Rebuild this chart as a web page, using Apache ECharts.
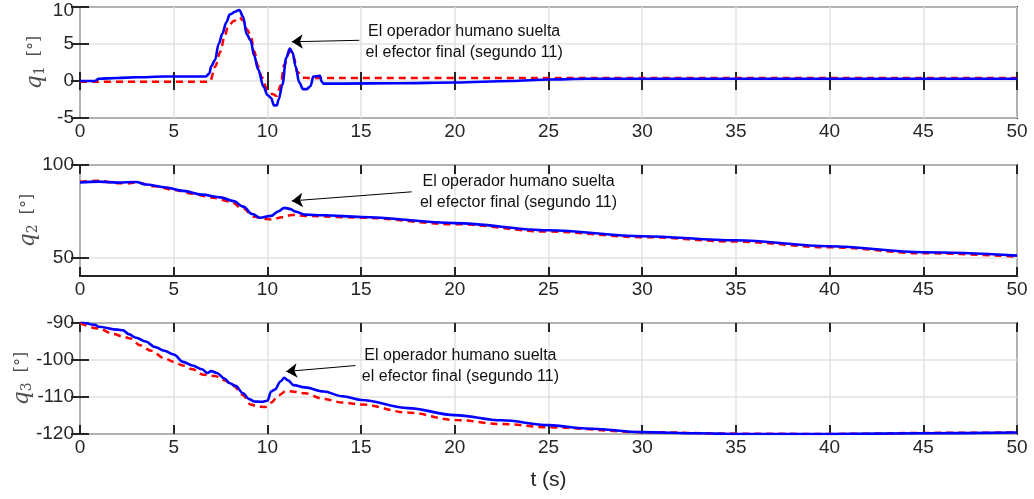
<!DOCTYPE html>
<html>
<head>
<meta charset="utf-8">
<script src="https://cdn.jsdelivr.net/npm/echarts@6/dist/echarts.min.js"></script>
<style>
  html, body { margin: 0; padding: 0; background: #fff; }
  #main { width: 1034px; height: 499px; }
</style>
</head>
<body>
<div id="main"></div>
<script>
// q1: medido (azul) y deseado (rojo)
var tQ1 = [0, 0.8, 1, 2, 3, 4.5, 6.7, 6.9, 7.0, 7.2, 7.4, 7.6, 7.8, 8.0, 8.3, 8.5, 8.7, 8.9, 9.1, 9.3, 9.5, 9.8, 10.0, 10.2, 10.35, 10.5, 10.6, 10.8, 11.0, 11.2, 11.35, 11.5, 11.7, 11.9, 12.1, 12.3, 12.45, 12.8, 12.9, 13.0, 14, 17, 20, 23, 25, 27, 30, 40, 50];
var q1 = [0, 0, 0.3, 0.4, 0.5, 0.6, 0.6, 1.0, 2.0, 2.8, 5.0, 6.4, 7.9, 9.0, 9.4, 9.6, 8.7, 6.3, 5.5, 3.4, 1.6, -0.8, -1.9, -2.3, -3.3, -3.3, -2.5, -0.5, 3.1, 4.4, 3.8, 2.0, -0.2, -1.1, -1.1, -0.7, 0.6, 0.7, -0.1, -0.35, -0.35, -0.3, -0.2, 0.0, 0.2, 0.3, 0.3, 0.3, 0.3];
var tQ1d = [0, 3, 6.8, 6.95, 7.2, 7.5, 7.7, 7.9, 8.2, 8.5, 8.7, 8.9, 9.1, 9.3, 9.5, 9.7, 10.0, 10.3, 10.5, 10.7, 10.9, 11.2, 11.4, 11.6, 11.9, 12.2, 20, 30, 50];
var q1d = [-0.1, -0.1, -0.1, 0, 1.9, 4.0, 5.9, 7.3, 8.1, 8.6, 8.2, 7.0, 6.2, 4.0, 2.0, 0.5, -1.2, -1.8, -2.0, -0.6, 2.2, 4.0, 3.2, 1.2, 0.45, 0.4, 0.4, 0.4, 0.4];

// q2
var tQ2 = [0, 1, 2, 3, 3.5, 4.5, 5.5, 6.5, 7.5, 8.2, 8.7, 9.2, 9.6, 10.2, 10.6, 10.9, 11.2, 11.5, 12, 13, 15, 20, 25, 30, 35, 40, 45, 50];
var q2 = [90.5, 91, 90.5, 90.8, 89.5, 88, 86, 84, 82.5, 80.5, 77.5, 73.5, 71.5, 72.5, 75, 76.8, 76.3, 74.8, 73.2, 72.8, 71.9, 68.6, 64.7, 61.5, 59.3, 56.1, 52.8, 51];
var tQ2d = [0, 1, 2, 2.5, 3, 4, 5, 6, 7, 8, 8.7, 9.3, 9.8, 10.2, 10.8, 11.3, 12, 14, 15, 20, 25, 30, 35, 40, 45, 50];
var q2d = [91, 91.5, 90.2, 90, 90.6, 88.5, 86.5, 84.5, 82.5, 80.3, 76.5, 72, 71, 70.5, 71.8, 73, 72.5, 71.8, 71.5, 68, 64, 61, 58.6, 55.5, 52.3, 50.5];

// q3
var tQ3 = [0, 0.8, 1, 2, 2.3, 2.6, 3, 3.5, 4, 4.5, 5, 5.5, 6, 6.5, 6.8, 7.0, 7.3, 7.7, 8.0, 8.3, 8.7, 9.0, 9.3, 9.7, 10.0, 10.2, 10.4, 10.7, 10.9, 11.1, 11.4, 12, 13, 14, 15, 17.5, 20, 22.5, 25, 27, 30, 33, 35, 40, 45, 50];
var q3 = [-89.5, -90.5, -91, -91.8, -92, -93, -94, -95, -96.5, -97.5, -98.5, -100.5, -101.5, -102.5, -103.5, -103, -103.5, -105, -106.3, -107, -109, -110.5, -111.2, -111.3, -111, -108.5, -108, -105.8, -104.8, -105.5, -106.8, -107.4, -108.5, -109.8, -110.8, -113, -114.9, -116.3, -117.6, -118.5, -119.5, -119.8, -120, -120, -119.8, -119.6];
var tQ3d = [0, 1, 1.8, 2.2, 2.7, 3.2, 3.8, 4.5, 5, 5.5, 6, 6.6, 7.2, 7.7, 8.2, 8.7, 9.1, 9.5, 9.9, 10.2, 10.6, 11.0, 11.3, 12, 13, 14, 15, 17.5, 20, 22.5, 25, 30, 35, 40, 42, 45, 50];
var q3d = [-90, -91.5, -93, -93.5, -94.2, -96, -97.5, -99.5, -100.5, -101.5, -102.5, -104, -104.3, -105.5, -107, -109.5, -112, -112.6, -112.7, -111.5, -109.5, -108.4, -108.5, -109, -110.5, -111.5, -112, -114.2, -116.2, -117.3, -118.2, -119.5, -119.9, -120, -119.9, -119.7, -119.6];

// ejes
var yMin = [-5, 40, -120];
var yMax = [10, 100, -90];
var yTicks = [[-5, 0, 5, 10], [50, 100], [-120, -110, -100, -90]];
var xTicks = [0, 5, 10, 15, 20, 25, 30, 35, 40, 45, 50];

// anotaciones: [inicio flecha], [punta], [centro del texto]
var arrowFrom = [[14.9, 5.5], [17.7, 85.5], [14.7, -101.5]];
var arrowTo = [[11.3, 5.3], [11.3, 80.6], [11.0, -103.1]];
var noteAt = [[20.5, 5.3], [23.4, 85.2], [20.3, -101.6]];
var noteText = 'El operador humano suelta\nel efector final (segundo 11)';

var gridTops = [7, 165, 323];
var gridHeight = 111;
var nameGaps = [33, 40, 46];
var INK = '#262626';
var FONT = 'Liberation Sans';

var zip = function(t, v) {
  var out = [];
  for (var i = 0; i < t.length; i++) out.push([t[i], v[i]]);
  return out;
};

var grids = [], xAxes = [], yAxes = [], series = [];

for (var i = 0; i < 3; i++) {
  grids.push({
    left: 80, right: 17, top: gridTops[i], height: gridHeight,
    outerBoundsMode: 'none', containLabel: false,
    show: true, borderColor: INK, borderWidth: 2, backgroundColor: '#fff'
  });
  var tickBase = {
    show: true, inside: true, length: 9,
    lineStyle: { color: INK, width: 2 }
  };
  // eje x inferior
  xAxes.push({
    type: 'value', gridIndex: i, min: 0, max: 50,
    axisLine: { show: false },
    axisTick: Object.assign({ customValues: xTicks }, tickBase),
    axisLabel: { customValues: xTicks, color: INK, fontFamily: FONT, fontSize: 19, margin: 4 },
    splitLine: { show: true, lineStyle: { color: '#e2e2e2', width: 1.5 } },
    name: i === 2 ? 't (s)' : '',
    nameLocation: 'middle', nameGap: 36, nameMoveOverlap: false,
    nameTextStyle: { color: INK, fontFamily: FONT, fontSize: 21 }
  });
  // eje x superior, solo marcas
  xAxes.push({
    type: 'value', gridIndex: i, min: 0, max: 50, position: 'top',
    axisLine: { show: false },
    axisTick: Object.assign({ customValues: xTicks }, tickBase),
    axisLabel: { show: false }, splitLine: { show: false }
  });
  yAxes.push({
    type: 'value', gridIndex: i, min: yMin[i], max: yMax[i],
    axisLine: { show: false },
    axisTick: Object.assign({ customValues: yTicks[i] }, tickBase),
    axisLabel: {
      customValues: yTicks[i], color: INK, fontFamily: FONT, fontSize: 19, margin: 6,
      formatter: (function(top) {
        return function(v) { return v === top ? '{t|' + v + '}' : '' + v; };
      })(i === 0 ? yMax[0] : null),
      rich: { t: { fontFamily: FONT, fontSize: 19, color: INK, padding: [7, 0, 0, 0] } }
    },
    splitLine: { show: true, lineStyle: { color: '#e2e2e2', width: 1.5 } },
    name: '{q|q}{s|' + (i + 1) + '}{u|  [°]}',
    nameLocation: 'middle', nameRotate: 90, nameGap: nameGaps[i], nameMoveOverlap: false,
    nameTextStyle: {
      rich: {
        q: { fontFamily: 'DejaVu Serif', fontStyle: 'italic', fontSize: 22, color: '#4d4d4d', lineHeight: 24 },
        s: { fontFamily: 'DejaVu Serif', fontSize: 14, color: '#4d4d4d', verticalAlign: 'bottom', lineHeight: 24 },
        u: { fontFamily: 'DejaVu Serif', fontSize: 16, color: '#4d4d4d', lineHeight: 24 }
      }
    }
  });
  yAxes.push({
    type: 'value', gridIndex: i, min: yMin[i], max: yMax[i], position: 'right',
    axisLine: { show: false },
    axisTick: Object.assign({ customValues: yTicks[i] }, tickBase),
    axisLabel: { show: false }, splitLine: { show: false }
  });
}

var sets = [[tQ1d, q1d, tQ1, q1], [tQ2d, q2d, tQ2, q2], [tQ3d, q3d, tQ3, q3]];

for (var k = 0; k < 3; k++) {
  series.push({
    type: 'line', xAxisIndex: 2 * k, yAxisIndex: 2 * k,
    data: zip(sets[k][0], sets[k][1]),
    showSymbol: false, smooth: 0.35, smoothMonotone: 'x',
    lineStyle: { color: '#ff0000', width: 2.5, type: [7, 5] },
    z: 3
  });
  series.push({
    type: 'line', xAxisIndex: 2 * k, yAxisIndex: 2 * k,
    data: zip(sets[k][2], sets[k][3]),
    showSymbol: false, smooth: 0.35, smoothMonotone: 'x',
    lineStyle: { color: '#0000ff', width: 2.6 },
    z: 4,
    markLine: {
      silent: true, symbol: ['none', 'arrow'], symbolSize: 11,
      lineStyle: { color: '#000', width: 1, type: 'solid' },
      label: { show: false },
      data: [[{ coord: arrowFrom[k] }, { coord: arrowTo[k] }]]
    },
    markPoint: {
      silent: true, symbol: 'circle', symbolSize: 0,
      label: {
        show: true, position: 'inside', formatter: noteText,
        color: '#111', fontFamily: FONT, fontSize: 16, lineHeight: 21, align: 'center'
      },
      data: [{ coord: noteAt[k] }]
    }
  });
}

var chart = echarts.init(document.getElementById('main'));
chart.setOption({
  animation: false,
  grid: grids,
  xAxis: xAxes,
  yAxis: yAxes,
  series: series
});
</script>
</body>
</html>
